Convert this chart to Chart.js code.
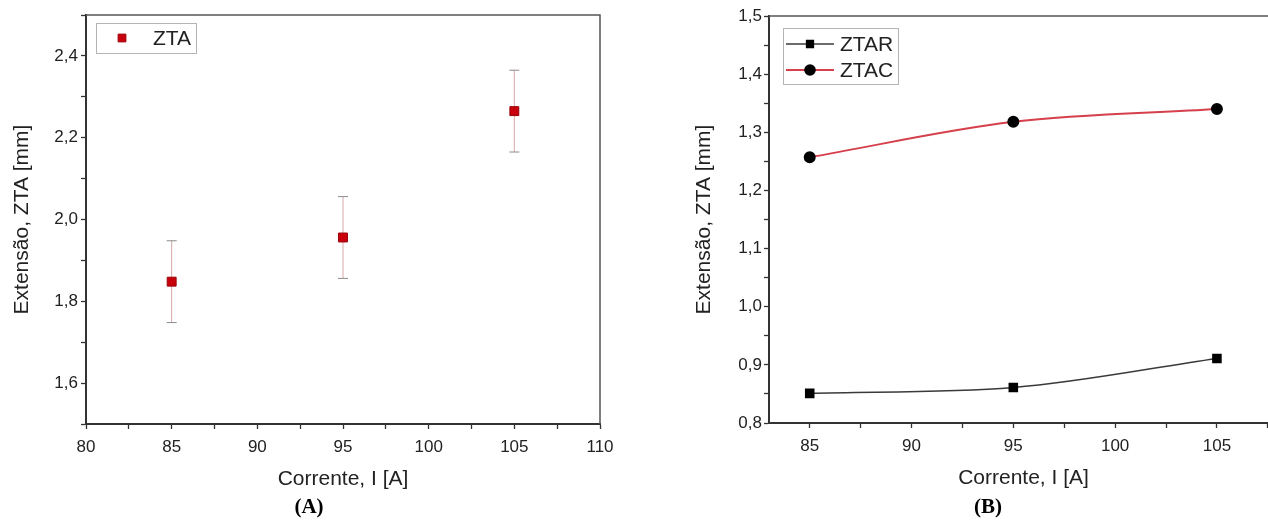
<!DOCTYPE html>
<html>
<head>
<meta charset="utf-8">
<script src="https://cdn.jsdelivr.net/npm/chart.js@4.4.1/dist/chart.umd.min.js"></script>
<style>
  html, body { margin: 0; padding: 0; background: #fff; overflow: hidden; }
  body { width: 1268px; height: 520px; position: relative; }
  canvas { position: absolute; top: 0; }
  #chartA { left: 0; }
  #chartB { left: 634px; }
</style>
</head>
<body>
<canvas id="chartA" width="634" height="520"></canvas>
<canvas id="chartB" width="700" height="520"></canvas>
<script>
// (A) ZTA extent vs current, with error bars
const currentA = [85, 95, 105];
const ztaA = [1.848, 1.956, 2.265];
const ztaErrA = [0.1, 0.1, 0.1];
const xMajorA = [80, 85, 90, 95, 100, 105, 110];
const yMajorA = [1.6, 1.8, 2.0, 2.2, 2.4];

// (B) ZTAR / ZTAC vs current
const currentB = [85, 95, 105];
const ztar = [0.851, 0.861, 0.911];
const ztac = [1.257, 1.318, 1.340];
const xMajorB = [85, 90, 95, 100, 105, 110];
const yMajorB = [0.8, 0.9, 1.0, 1.1, 1.2, 1.3, 1.4, 1.5];

const SANS = '"Liberation Sans", Arial, Helvetica, sans-serif';
const SERIF = '"Liberation Serif", "Times New Roman", serif';
const TEXT = '#222';

const isMajor = (list, v) => list.some(m => Math.abs(m - v) < 1e-6);
const fmt = (list, digits) => v => isMajor(list, v) ? v.toFixed(digits).replace('.', ',') : '';
// tick marks every half step (minor ticks have no label)
const stepTicks = (from, to, step) => {
  const t = [];
  for (let v = from; v <= to + 1e-9; v += step) t.push({ value: +v.toFixed(4) });
  return t;
};

// top and right sides of the frame
const framePlugin = {
  id: 'frame',
  afterDraw(chart) {
    const { ctx, chartArea: a } = chart;
    ctx.save();
    ctx.strokeStyle = '#555';
    ctx.lineWidth = 1.5;
    ctx.beginPath();
    ctx.moveTo(a.left, a.top);
    ctx.lineTo(a.right, a.top);
    ctx.lineTo(a.right, a.bottom);
    ctx.stroke();
    ctx.restore();
  }
};

const errorBarPlugin = {
  id: 'errorBars',
  beforeDatasetsDraw(chart) {
    const { ctx, scales: { x, y } } = chart;
    ctx.save();
    chart.data.datasets.forEach(ds => {
      if (!ds.errors) return;
      ds.data.forEach((p, i) => {
        const px = x.getPixelForValue(p.x);
        const top = y.getPixelForValue(p.y + ds.errors[i]);
        const bot = y.getPixelForValue(p.y - ds.errors[i]);
        ctx.strokeStyle = '#d8a8a8';
        ctx.lineWidth = 1;
        ctx.beginPath();
        ctx.moveTo(px, top);
        ctx.lineTo(px, bot);
        ctx.stroke();
        ctx.strokeStyle = '#8a8a8a';
        ctx.beginPath();
        ctx.moveTo(px - 5, top); ctx.lineTo(px + 5, top);
        ctx.moveTo(px - 5, bot); ctx.lineTo(px + 5, bot);
        ctx.stroke();
      });
    });
    ctx.restore();
  }
};

// legend drawn as a framed box inside the plot area
const boxLegend = {
  id: 'boxLegend',
  afterDraw(chart, args, o) {
    const { ctx, chartArea: a } = chart;
    const x0 = a.left + o.dx, y0 = a.top + o.dy;
    ctx.save();
    ctx.fillStyle = '#fff';
    ctx.fillRect(x0, y0, o.width, o.height);
    ctx.strokeStyle = '#b4b4b4';
    ctx.lineWidth = 1;
    ctx.strokeRect(x0 + 0.5, y0 + 0.5, o.width, o.height);
    ctx.font = '21px ' + SANS;
    ctx.textBaseline = 'middle';
    chart.data.datasets.forEach((ds, i) => {
      const cy = y0 + o.firstRow + i * o.rowGap;
      if (o.showLine) {
        ctx.strokeStyle = ds.borderColor;
        ctx.lineWidth = ds.borderWidth;
        ctx.beginPath();
        ctx.moveTo(x0 + o.lineFrom, cy);
        ctx.lineTo(x0 + o.lineTo, cy);
        ctx.stroke();
      }
      ctx.fillStyle = ds.pointBackgroundColor || ds.backgroundColor;
      ctx.strokeStyle = ds.pointBorderColor || ds.borderColor;
      Chart.helpers.drawPoint(ctx, { pointStyle: ds.pointStyle, radius: o.markerRadius, borderWidth: 1, rotation: 0 }, x0 + o.markerX, cy);
      ctx.fillStyle = TEXT;
      ctx.fillText(ds.label, x0 + o.textX, cy + 1);
    });
    ctx.restore();
  }
};

const tickFont = { family: SANS, size: 17 };
const titleFont = { family: SANS, size: 21 };
const axisBorder = { color: '#333', width: 2 };
const tickGrid = { drawOnChartArea: false, tickLength: 5, tickColor: '#333', tickWidth: 1.3 };
const panelTitle = text => ({
  display: true, position: 'bottom', text: text, color: '#000',
  font: { family: SERIF, size: 21, weight: 'bold' }, padding: { top: 0, bottom: 0 }
});

new Chart(document.getElementById('chartA'), {
  type: 'scatter',
  data: {
    datasets: [{
      label: 'ZTA',
      data: currentA.map((x, i) => ({ x: x, y: ztaA[i] })),
      errors: ztaErrA,
      pointStyle: 'rect',
      pointRadius: 6.3,
      backgroundColor: '#c8000c',
      borderColor: '#9a0008',
      borderWidth: 1
    }]
  },
  options: {
    responsive: false,
    animation: false,
    devicePixelRatio: 1,
    layout: { padding: { top: 15, right: 34, left: 18, bottom: 0 } },
    plugins: {
      legend: { display: false },
      tooltip: { enabled: false },
      title: panelTitle('(A)'),
      boxLegend: { dx: 10, dy: 8, width: 100, height: 30, firstRow: 15, rowGap: 0, markerX: 26, textX: 57, markerRadius: 5.5, showLine: false }
    },
    scales: {
      x: {
        type: 'linear', min: 80, max: 110,
        afterFit: s => { s.height = 70.8; },
        afterBuildTicks: s => { s.ticks = stepTicks(80, 110, 2.5); },
        ticks: { autoSkip: false, maxRotation: 0, callback: fmt(xMajorA, 0), font: tickFont, color: TEXT, padding: 7.8 },
        grid: tickGrid,
        border: axisBorder,
        title: { display: true, text: 'Corrente, I [A]', font: titleFont, color: TEXT, padding: { top: 0, bottom: 3.2 } }
      },
      y: {
        type: 'linear', min: 1.5, max: 2.5,
        afterFit: s => { s.width = 68; },
        afterBuildTicks: s => { s.ticks = stepTicks(1.5, 2.5, 0.1); },
        ticks: { autoSkip: false, callback: fmt(yMajorA, 1), font: tickFont, color: TEXT, padding: 3 },
        grid: tickGrid,
        border: axisBorder,
        title: { display: true, text: 'Extensão, ZTA [mm]', font: titleFont, color: TEXT, padding: { top: -8.6, bottom: 0 } }
      }
    }
  },
  plugins: [errorBarPlugin, framePlugin, boxLegend]
});

new Chart(document.getElementById('chartB'), {
  type: 'line',
  data: {
    datasets: [{
      label: 'ZTAR',
      data: currentB.map((x, i) => ({ x: x, y: ztar[i] })),
      borderColor: '#3a3a3a',
      borderWidth: 1.5,
      pointStyle: 'rect',
      pointRadius: 5.7,
      pointBackgroundColor: '#000',
      pointBorderColor: '#000',
      cubicInterpolationMode: 'monotone'
    }, {
      label: 'ZTAC',
      data: currentB.map((x, i) => ({ x: x, y: ztac[i] })),
      borderColor: '#d5404c',
      borderWidth: 2,
      pointStyle: 'circle',
      pointRadius: 5,
      pointBackgroundColor: '#000',
      pointBorderColor: '#000',
      cubicInterpolationMode: 'monotone'
    }]
  },
  options: {
    responsive: false,
    animation: false,
    devicePixelRatio: 1,
    layout: { padding: { top: 16, right: 56, left: 64, bottom: 0 } },
    plugins: {
      legend: { display: false },
      tooltip: { enabled: false },
      title: panelTitle('(B)'),
      boxLegend: { dx: 14, dy: 12, width: 115, height: 56, firstRow: 16, rowGap: 26, lineFrom: 3, lineTo: 51, markerX: 27, textX: 57, markerRadius: 4.8, showLine: true }
    },
    scales: {
      x: {
        type: 'linear', min: 83, max: 108,
        afterFit: s => { s.height = 71.8; },
        afterBuildTicks: s => { s.ticks = stepTicks(85, 107.5, 2.5); },
        ticks: { autoSkip: false, maxRotation: 0, callback: fmt(xMajorB, 0), font: tickFont, color: TEXT, padding: 7.8 },
        grid: tickGrid,
        border: axisBorder,
        title: { display: true, text: 'Corrente, I [A]', font: titleFont, color: TEXT, padding: { top: 0, bottom: 4.2 } }
      },
      y: {
        type: 'linear', min: 0.8, max: 1.5,
        afterFit: s => { s.width = 71; },
        afterBuildTicks: s => { s.ticks = stepTicks(0.8, 1.5, 0.05); },
        ticks: { autoSkip: false, callback: fmt(yMajorB, 1), font: tickFont, color: TEXT, padding: 2 },
        grid: tickGrid,
        border: axisBorder,
        title: { display: true, text: 'Extensão, ZTA [mm]', font: titleFont, color: TEXT, padding: { top: -6.6, bottom: 0 } }
      }
    }
  },
  plugins: [framePlugin, boxLegend]
});
</script>
</body>
</html>
